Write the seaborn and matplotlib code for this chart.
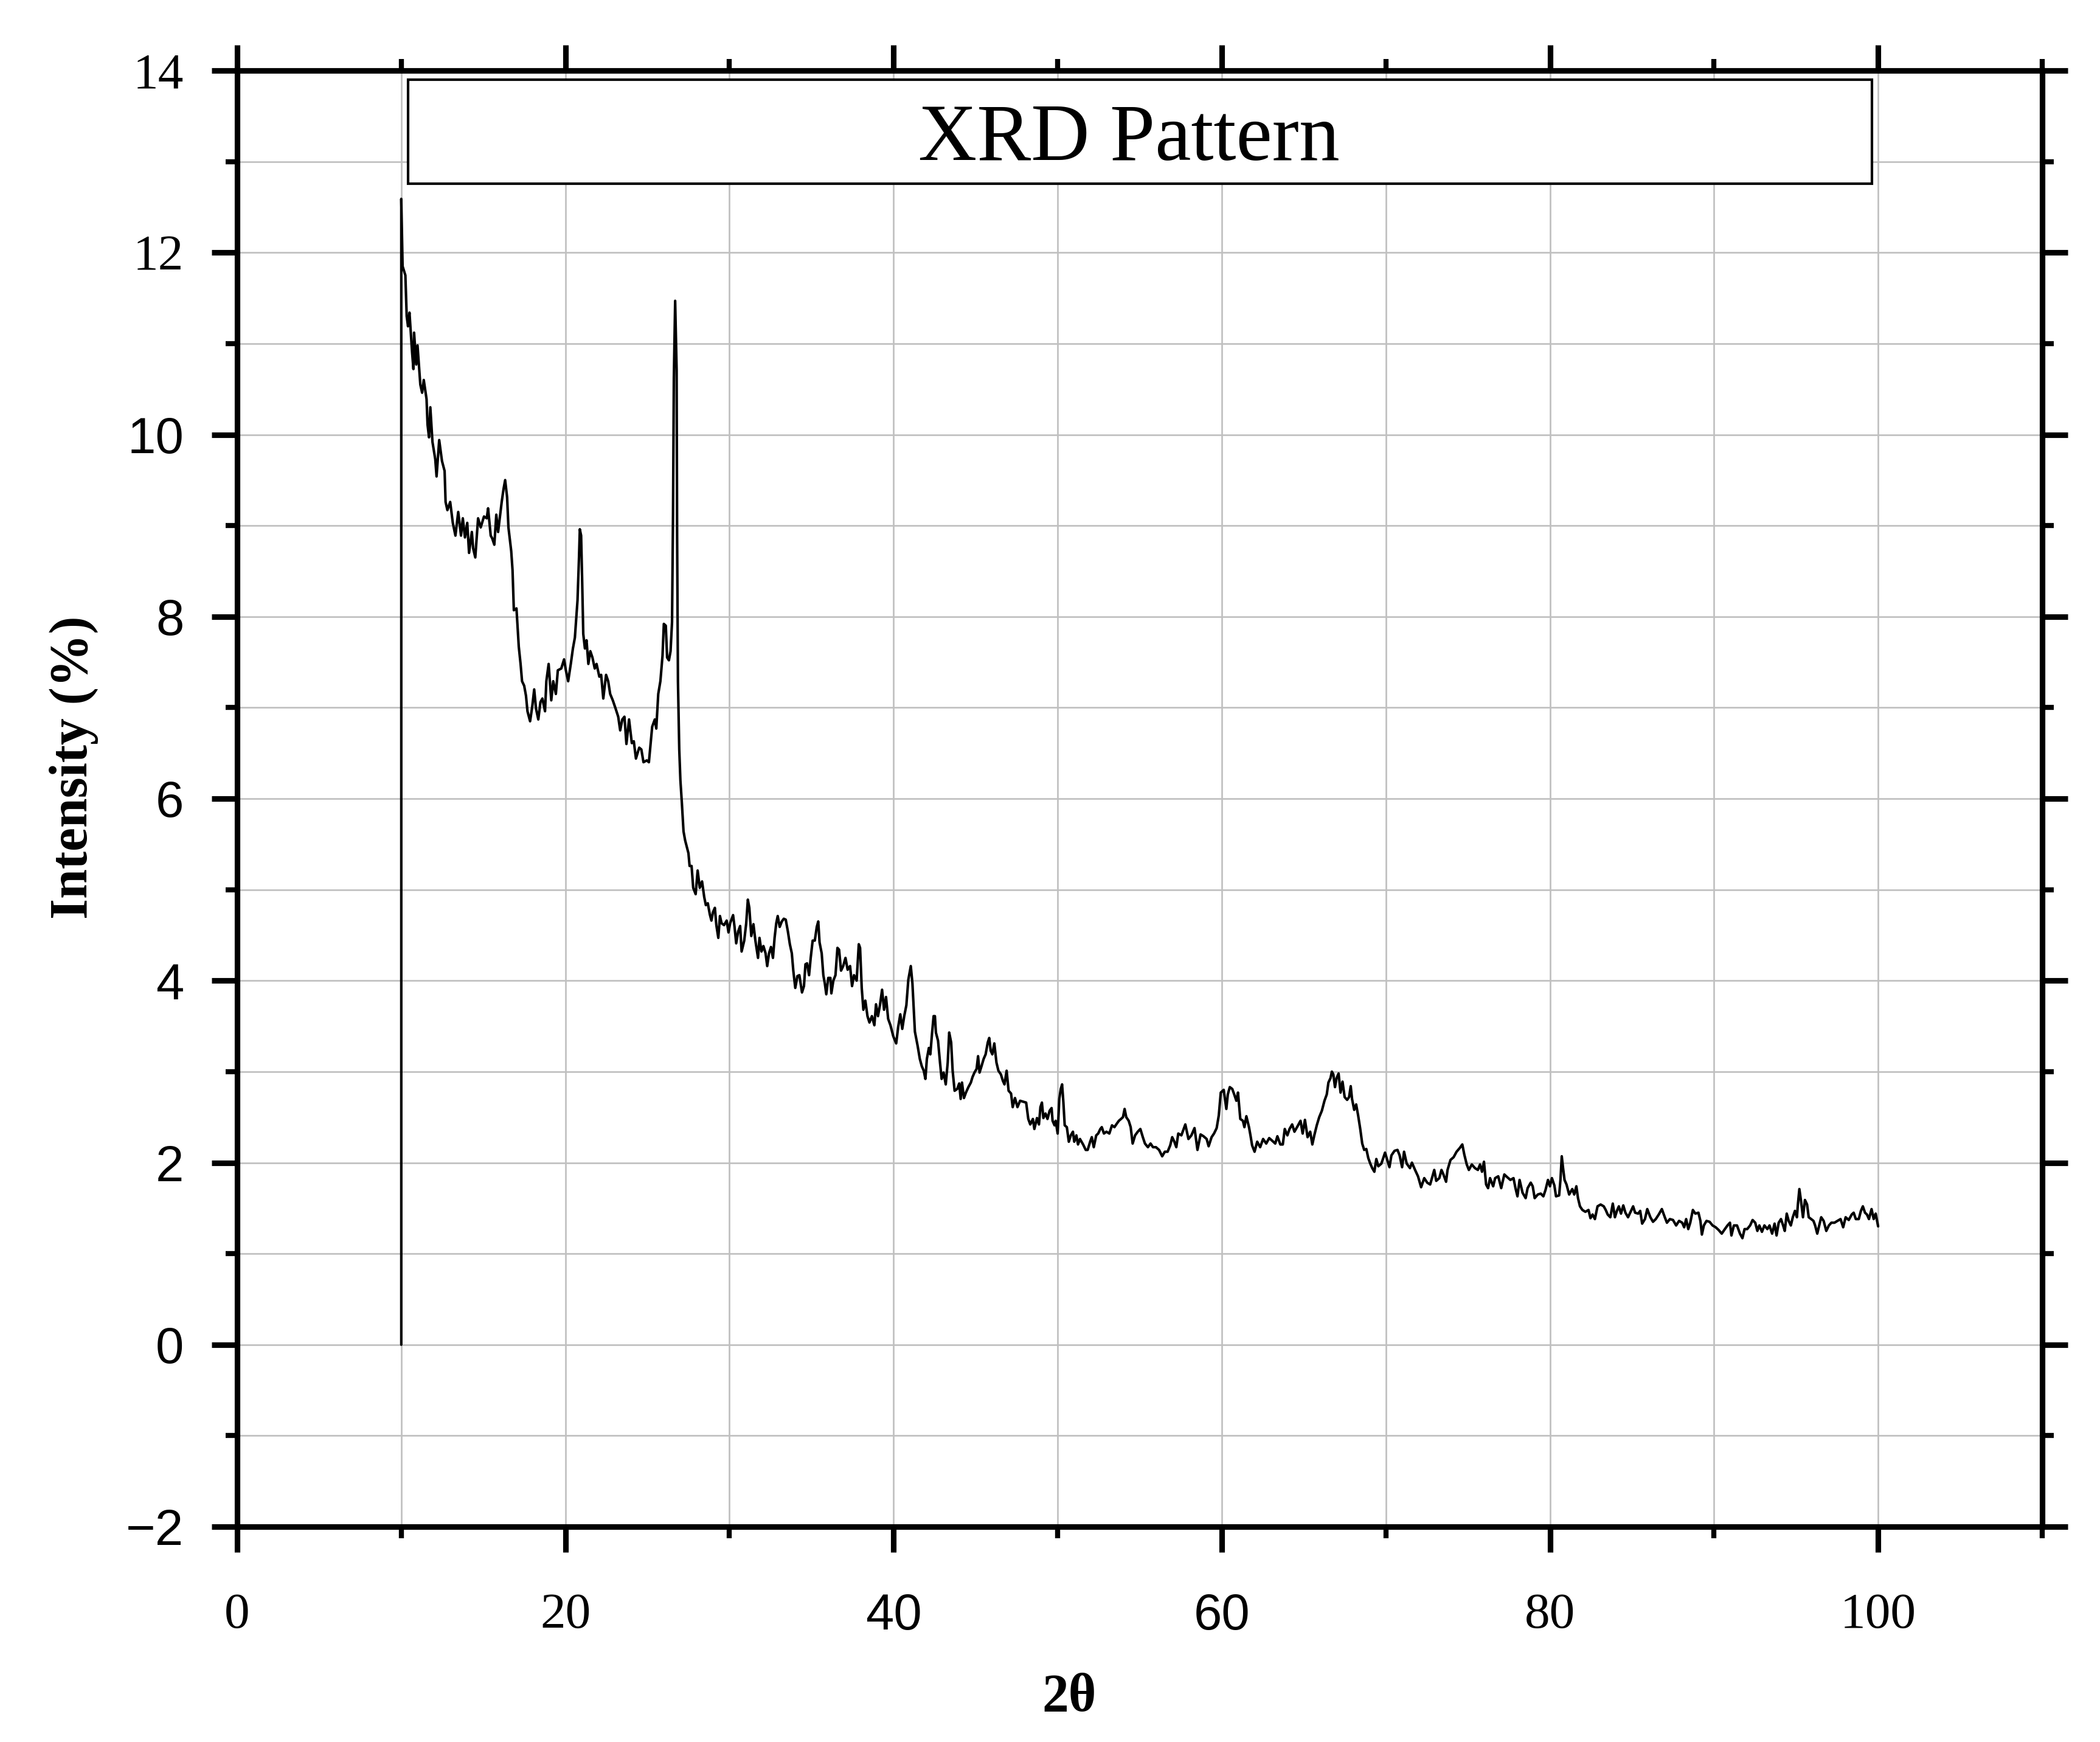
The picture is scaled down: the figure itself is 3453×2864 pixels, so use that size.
import numpy as np
import pandas as pd
import matplotlib
matplotlib.use("Agg")
import matplotlib.pyplot as plt
import seaborn as sns
from matplotlib.ticker import MultipleLocator
from matplotlib.patches import Rectangle

# ---------------- data ----------------
two_theta = [
    10.0, 10.0, 10.08, 10.25, 10.33, 10.41, 10.5, 10.66, 10.74, 10.78, 10.91, 10.99, 11.16, 11.27, 11.37,
    11.54, 11.6, 11.69, 11.77, 11.9, 12.07, 12.15, 12.31, 12.48, 12.64, 12.7, 12.81, 12.98, 13.14, 13.3,
    13.47, 13.64, 13.75, 13.88, 14.02, 14.13, 14.3, 14.38, 14.51, 14.68, 14.84, 15.04, 15.21, 15.29, 15.45,
    15.54, 15.67, 15.79, 15.9, 16.0, 16.12, 16.23, 16.33, 16.45, 16.53, 16.7, 16.78, 16.86, 17.02, 17.16,
    17.27, 17.36, 17.49, 17.6, 17.69, 17.85, 17.98, 18.1, 18.21, 18.35, 18.48, 18.6, 18.76, 18.84, 18.98,
    19.14, 19.26, 19.42, 19.54, 19.75, 19.92, 20.03, 20.17, 20.33, 20.46, 20.58, 20.66, 20.74, 20.83, 20.88,
    20.96, 21.02, 21.09, 21.19, 21.29, 21.4, 21.52, 21.65, 21.79, 21.9, 22.07, 22.18, 22.31, 22.48, 22.61,
    22.73, 22.89, 23.06, 23.22, 23.34, 23.47, 23.6, 23.72, 23.88, 24.05, 24.17, 24.3, 24.5, 24.63, 24.76,
    24.96, 25.09, 25.21, 25.29, 25.45, 25.54, 25.66, 25.79, 25.92, 26.0, 26.12, 26.2, 26.31, 26.41, 26.5,
    26.56, 26.61, 26.69, 26.78, 26.81, 26.86, 26.94,
    27.01, 27.1, 27.2, 27.3, 27.5, 27.57, 27.69, 27.79, 27.94, 28.06, 28.19, 28.33, 28.46, 28.56, 28.68,
    28.8, 28.9, 28.99, 29.11, 29.2, 29.32, 29.42, 29.52, 29.67, 29.83, 29.94, 30.04, 30.22, 30.31, 30.41,
    30.53, 30.65, 30.74, 30.9, 31.02, 31.12, 31.21, 31.33, 31.46, 31.58, 31.74, 31.83, 31.95, 32.07, 32.2,
    32.3, 32.41, 32.53, 32.65, 32.75, 32.85, 32.94, 33.06, 33.19, 33.31, 33.43, 33.56, 33.68, 33.8, 33.89,
    34.01, 34.14, 34.26, 34.42, 34.54, 34.63, 34.73, 34.85, 34.95, 35.07, 35.2, 35.32, 35.41, 35.49, 35.62,
    35.72, 35.81, 35.9, 36.02, 36.15, 36.21, 36.33, 36.46, 36.58, 36.68, 36.8, 36.93, 37.07, 37.2, 37.35,
    37.47, 37.59, 37.75, 37.88, 37.96, 38.06, 38.16, 38.28, 38.41, 38.53, 38.68, 38.83, 38.93, 39.05, 39.17,
    39.3, 39.42, 39.54, 39.67, 39.81, 39.98, 40.16, 40.28, 40.41, 40.53, 40.65, 40.78, 40.9, 41.05, 41.15,
    41.3,
    41.47, 41.6, 41.72, 41.84, 41.94, 42.03, 42.15, 42.24, 42.34, 42.44, 42.52, 42.58, 42.71, 42.83, 42.93,
    43.05, 43.18, 43.3, 43.39, 43.51, 43.6, 43.72, 43.88, 44.0, 44.09, 44.17, 44.29, 44.41, 44.56, 44.71,
    44.81, 44.93, 45.06, 45.15, 45.24, 45.36, 45.49, 45.61, 45.74, 45.83, 45.92, 46.02, 46.14, 46.27, 46.39,
    46.54, 46.66, 46.76, 46.89, 47.01, 47.16, 47.26, 47.4, 47.55, 47.71, 47.9, 48.08, 48.21, 48.33, 48.49,
    48.58, 48.74, 48.86, 48.95, 49.04, 49.13, 49.26, 49.38, 49.51, 49.63, 49.69, 49.81, 49.88, 50.0, 50.1,
    50.19, 50.27, 50.35, 50.43, 50.56, 50.68, 50.8, 50.93, 51.01, 51.14, 51.24, 51.36, 51.55, 51.71, 51.83,
    51.98, 52.08, 52.2, 52.35, 52.47, 52.6, 52.69, 52.82, 52.97, 53.15, 53.31, 53.46, 53.61, 53.73, 53.86,
    53.98, 54.08, 54.18, 54.33, 54.45, 54.57, 54.72, 54.88, 55.04, 55.19, 55.32, 55.5, 55.66, 55.81, 55.99,
    56.18, 56.37, 56.53, 56.7, 56.86, 56.98, 57.11, 57.23, 57.35,
    57.54, 57.78, 57.97, 58.15, 58.34, 58.52, 58.71, 58.89, 59.08, 59.2, 59.38, 59.53, 59.69, 59.82, 59.94,
    60.12, 60.28, 60.37, 60.49, 60.64, 60.76, 60.89, 60.99, 61.13, 61.29, 61.38, 61.5, 61.66, 61.75, 61.85,
    62.0, 62.16, 62.34, 62.52, 62.71, 62.89, 63.08, 63.26, 63.39, 63.57, 63.72, 63.84, 64.0, 64.13, 64.29,
    64.43, 64.62, 64.8, 64.93, 65.07, 65.23, 65.39, 65.52, 65.64, 65.79, 65.94, 66.1, 66.26, 66.4, 66.5,
    66.63, 66.71, 66.8, 66.9, 67.0, 67.12, 67.24, 67.36, 67.49, 67.64, 67.76, 67.86, 67.94, 68.07, 68.19,
    68.31, 68.44, 68.56, 68.68, 68.81, 68.93, 69.05, 69.17, 69.3, 69.42, 69.54, 69.73, 69.95, 70.1, 70.22,
    70.34, 70.53, 70.71, 70.84, 70.99, 71.11, 71.27,
    71.47, 71.59, 71.78, 71.96, 72.15, 72.34, 72.52, 72.7, 72.95, 73.07, 73.26, 73.39, 73.51, 73.67, 73.76,
    73.94, 74.13, 74.31, 74.5, 74.66, 74.78, 74.93, 75.06, 75.24, 75.43, 75.61, 75.74, 75.86, 75.98, 76.11,
    76.23, 76.35, 76.54, 76.66, 76.85, 77.03, 77.22, 77.4, 77.59, 77.78, 77.9, 78.02, 78.15, 78.33, 78.52,
    78.64, 78.83, 78.95, 79.07, 79.26, 79.44, 79.6, 79.73, 79.88, 80.0, 80.12, 80.27, 80.37, 80.56, 80.64,
    80.72, 80.8, 80.89, 81.01, 81.17, 81.36, 81.48, 81.61, 81.71, 81.83, 81.98, 82.16, 82.35, 82.47, 82.6,
    82.74, 82.9, 83.09, 83.28, 83.4, 83.52, 83.68, 83.83, 83.96, 84.08, 84.2, 84.33, 84.47, 84.6, 84.76,
    84.94, 85.07, 85.19, 85.38, 85.5, 85.62, 85.79, 85.93, 86.12, 86.28,
    86.45, 86.63, 86.82, 87.0, 87.13, 87.31, 87.5, 87.69, 87.87, 88.06, 88.18, 88.3, 88.43, 88.55, 88.71,
    88.86, 89.05, 89.17, 89.26, 89.38, 89.54, 89.73, 89.91, 90.1, 90.28, 90.47, 90.66, 90.82, 90.97, 91.06,
    91.21, 91.4, 91.58, 91.73, 91.86, 92.02, 92.2, 92.35, 92.51, 92.64, 92.76, 92.92, 93.07, 93.25, 93.38,
    93.54, 93.69, 93.81, 93.94, 94.08, 94.21, 94.31, 94.43, 94.55, 94.68, 94.8, 94.93, 95.05, 95.11, 95.2,
    95.3, 95.42, 95.54, 95.67, 95.77, 95.92, 96.06, 96.16, 96.29, 96.41, 96.53, 96.68, 96.84, 97.0, 97.15,
    97.34, 97.52, 97.71, 97.87, 98.02, 98.21, 98.39, 98.51, 98.64, 98.82, 98.95, 99.07, 99.2, 99.32, 99.44,
    99.6, 99.73, 99.85, 100.0,
]

intensity = [
    0.0, 12.59, 11.85, 11.75, 11.3, 11.19, 11.34, 10.9, 10.72, 11.12, 10.77, 10.98, 10.55, 10.46, 10.6,
    10.39, 10.11, 9.97, 10.3, 9.92, 9.73, 9.54, 9.94, 9.71, 9.6, 9.26, 9.17, 9.26, 9.03, 8.89,
    9.15, 8.89, 9.08, 8.87, 9.03, 8.7, 8.93, 8.75, 8.65, 9.08, 8.98, 9.1, 9.08, 9.19, 8.89,
    8.86, 8.79, 9.12, 8.93, 9.08, 9.26, 9.4, 9.5, 9.31, 8.98, 8.72, 8.51, 8.07, 8.09, 7.67,
    7.48, 7.29, 7.24, 7.13, 6.96, 6.85, 7.01, 7.2, 6.99, 6.87, 7.06, 7.1, 6.96, 7.29, 7.48,
    7.08, 7.29, 7.15, 7.41, 7.43, 7.53, 7.41, 7.29, 7.48, 7.65, 7.77, 7.98, 8.18, 8.65, 8.96,
    8.89, 8.42, 7.81, 7.65, 7.74, 7.48, 7.62, 7.55, 7.43, 7.48, 7.34, 7.36, 7.1, 7.36, 7.29,
    7.15, 7.08, 6.99, 6.9, 6.75, 6.87, 6.9, 6.6, 6.87, 6.61, 6.63, 6.44, 6.56, 6.54, 6.4,
    6.42, 6.4, 6.63, 6.79, 6.87, 6.77, 7.15, 7.29, 7.57, 7.92, 7.9, 7.55, 7.52, 7.62, 7.94,
    9.12, 10.62, 11.47, 10.71, 8.89, 7.29, 6.54,
    6.2, 5.95, 5.64, 5.54, 5.4, 5.26, 5.26, 5.02, 4.95, 5.21, 5.02, 5.09, 4.92, 4.83, 4.85,
    4.73, 4.66, 4.75, 4.8, 4.61, 4.47, 4.71, 4.63, 4.61, 4.66, 4.53, 4.63, 4.72, 4.59, 4.41,
    4.54, 4.6, 4.32, 4.44, 4.63, 4.89, 4.8, 4.49, 4.62, 4.44, 4.25, 4.47, 4.32, 4.38, 4.3,
    4.16, 4.3, 4.37, 4.25, 4.47, 4.63, 4.71, 4.59, 4.65, 4.68, 4.67, 4.54, 4.4, 4.3, 4.11,
    3.92, 4.05, 4.06, 3.87, 3.94, 4.18, 4.19, 4.06, 4.25, 4.44, 4.44, 4.59, 4.65, 4.42, 4.3,
    4.06, 3.97, 3.85, 4.03, 4.03, 3.86, 4.0, 4.06, 4.36, 4.34, 4.11, 4.16, 4.25, 4.12, 4.16,
    3.94, 4.06, 4.0, 4.4, 4.36, 3.92, 3.68, 3.78, 3.61, 3.54, 3.61, 3.51, 3.74, 3.61, 3.73,
    3.9, 3.68, 3.82, 3.58, 3.51, 3.39, 3.31, 3.49, 3.63, 3.47, 3.61, 3.73, 4.01, 4.16, 3.97,
    3.44,
    3.28, 3.14, 3.06, 3.01, 2.92, 3.14, 3.26, 3.19, 3.41, 3.61, 3.61, 3.43, 3.34, 3.1, 2.92,
    2.99, 2.86, 3.1, 3.43, 3.32, 3.01, 2.79, 2.81, 2.87, 2.7, 2.88, 2.71, 2.77, 2.83, 2.88,
    2.94, 2.99, 3.03, 3.17, 2.99, 3.06, 3.14, 3.19, 3.32, 3.37, 3.23, 3.19, 3.31, 3.1, 3.01,
    2.97, 2.9, 2.86, 3.01, 2.79, 2.76, 2.61, 2.71, 2.61, 2.68, 2.67, 2.66, 2.48, 2.42, 2.48,
    2.37, 2.49, 2.42, 2.61, 2.66, 2.49, 2.54, 2.48, 2.57, 2.6, 2.46, 2.41, 2.46, 2.32, 2.7,
    2.81, 2.86, 2.66, 2.41, 2.39, 2.23, 2.3, 2.34, 2.23, 2.3, 2.2, 2.26, 2.2, 2.14, 2.14,
    2.23, 2.28, 2.17, 2.3, 2.32, 2.37, 2.39, 2.32, 2.34, 2.32, 2.41, 2.39, 2.43, 2.46, 2.48,
    2.5, 2.59, 2.5, 2.46, 2.39, 2.21, 2.3, 2.34, 2.37, 2.28, 2.21, 2.17, 2.21, 2.17, 2.17,
    2.14, 2.07, 2.12, 2.12, 2.19, 2.28, 2.23, 2.17, 2.32,
    2.3, 2.42, 2.26, 2.3, 2.38, 2.14, 2.31, 2.29, 2.26, 2.18, 2.28, 2.32, 2.38, 2.52, 2.77,
    2.8, 2.59, 2.75, 2.83, 2.81, 2.75, 2.68, 2.77, 2.48, 2.46, 2.39, 2.51, 2.39, 2.3, 2.19,
    2.12, 2.23, 2.17, 2.26, 2.21, 2.27, 2.24, 2.21, 2.29, 2.2, 2.2, 2.37, 2.3, 2.37, 2.42,
    2.34, 2.4, 2.46, 2.32, 2.47, 2.28, 2.34, 2.2, 2.3, 2.41, 2.5, 2.57, 2.68, 2.75, 2.88,
    2.93, 3.0, 2.97, 2.83, 2.93, 2.98, 2.77, 2.89, 2.72, 2.69, 2.72, 2.84, 2.7, 2.58, 2.64,
    2.52, 2.37, 2.21, 2.14, 2.15, 2.05, 1.99, 1.94, 1.9, 2.04, 1.96, 1.99, 2.11, 2.02, 1.95,
    2.08, 2.13, 2.14, 2.08, 1.95, 2.12, 1.99,
    1.94, 2.0, 1.92, 1.85, 1.73, 1.83, 1.78, 1.76, 1.92, 1.8, 1.83, 1.92, 1.87, 1.79, 1.92,
    2.03, 2.06, 2.12, 2.16, 2.2, 2.09, 1.98, 1.92, 1.98, 1.94, 1.92, 1.98, 1.9, 2.01, 1.76,
    1.72, 1.83, 1.74, 1.83, 1.85, 1.72, 1.87, 1.84, 1.81, 1.83, 1.72, 1.63, 1.81, 1.67, 1.61,
    1.72, 1.78, 1.74, 1.61, 1.65, 1.66, 1.63, 1.7, 1.81, 1.74, 1.83, 1.75, 1.63, 1.64, 1.81,
    2.07, 1.94, 1.81, 1.76, 1.65, 1.71, 1.65, 1.74, 1.61, 1.52, 1.48, 1.46, 1.48, 1.39, 1.43,
    1.38, 1.52, 1.54, 1.52, 1.48, 1.43, 1.4, 1.55, 1.4, 1.47, 1.52, 1.44, 1.53, 1.45, 1.4,
    1.47, 1.52, 1.45, 1.44, 1.47, 1.33, 1.38, 1.49, 1.4, 1.35,
    1.38, 1.43, 1.49, 1.4, 1.34, 1.38, 1.37, 1.31, 1.36, 1.34, 1.29, 1.38, 1.27, 1.34, 1.48,
    1.44, 1.45, 1.36, 1.21, 1.31, 1.36, 1.35, 1.31, 1.29, 1.26, 1.22, 1.27, 1.31, 1.34, 1.2,
    1.31, 1.31, 1.22, 1.17, 1.27, 1.27, 1.31, 1.37, 1.34, 1.25, 1.31, 1.24, 1.31, 1.27, 1.31,
    1.22, 1.33, 1.2, 1.34, 1.38, 1.31, 1.25, 1.44, 1.36, 1.31, 1.4, 1.47, 1.4, 1.54, 1.71,
    1.58, 1.4, 1.59, 1.54, 1.4, 1.38, 1.36, 1.31, 1.22, 1.31, 1.4, 1.36, 1.25, 1.31, 1.34,
    1.34, 1.36, 1.38, 1.29, 1.4, 1.37, 1.43, 1.45, 1.38, 1.38, 1.47, 1.52, 1.45, 1.43, 1.38,
    1.49, 1.38, 1.44, 1.3,
]

x_major_ticks = [0, 20, 40, 60, 80, 100]
x_tick_labels = ["0", "20", "40", "60", "80", "100"]
x_tick_styles = ["serif", "serif", "sans", "sans", "serif", "serif"]

y_major_ticks = [-2, 0, 2, 4, 6, 8, 10, 12, 14]
y_tick_labels = ["\u22122", "0", "2", "4", "6", "8", "10", "12", "14"]
y_tick_styles = ["sans", "sans", "sans", "sans", "sans", "sans", "sans", "serif", "serif"]

title_text = "XRD Pattern"
x_label = "2\u03b8"
y_label = "Intensity (%)"

# ---------------- styling ----------------
SERIF = "Liberation Serif"
SANS = "Liberation Sans"
FAMILY = {"serif": SERIF, "sans": SANS}

sns.set_theme(style="ticks")
plt.rcParams["font.family"] = [SERIF, "DejaVu Serif"]
plt.rcParams["axes.unicode_minus"] = True

df = pd.DataFrame({"two_theta": two_theta, "intensity": intensity})

W, H, DPI = 3453, 2864, 300
fig = plt.figure(figsize=(W / DPI, H / DPI), dpi=DPI)
fig.patch.set_facecolor("white")
ax = fig.add_axes([390 / W, 1 - 2510 / H, (3358 - 390) / W, (2510 - 116) / H])
ax.set_facecolor("white")

sns.lineplot(data=df, x="two_theta", y="intensity", sort=False, estimator=None,
             color="black", linewidth=1.0, ax=ax, zorder=3)

ax.set_xlim(0, 110)
ax.set_ylim(-2, 14)

ax.set_xticks(x_major_ticks)
ax.set_xticklabels(x_tick_labels)
ax.set_yticks(y_major_ticks)
ax.set_yticklabels(y_tick_labels)
ax.xaxis.set_minor_locator(MultipleLocator(10))
ax.yaxis.set_minor_locator(MultipleLocator(1))

for lab, st in zip(ax.get_xticklabels(), x_tick_styles):
    lab.set_fontfamily(FAMILY[st])
for lab, st in zip(ax.get_yticklabels(), y_tick_styles):
    lab.set_fontfamily(FAMILY[st])

ax.tick_params(which="major", direction="out", length=10, width=2.2, color="black",
               top=True, right=True, labeltop=False, labelright=False,
               labelsize=20, labelcolor="black")
ax.tick_params(axis="x", which="major", pad=16)
ax.tick_params(axis="y", which="major", pad=11)
ax.tick_params(which="minor", direction="out", length=4.5, width=2.0, color="black",
               top=True, right=True)

ax.grid(True, which="both", color="#c0c0c0", linewidth=0.65)
ax.set_axisbelow(True)

for sp in ax.spines.values():
    sp.set_visible(True)
    sp.set_linewidth(2.2)
    sp.set_color("black")

ax.set_xlabel(x_label, fontfamily=SERIF, fontweight="bold", fontsize=21, color="black")
ax.set_ylabel(y_label, fontfamily=SERIF, fontweight="bold", fontsize=21, color="black")
ax.xaxis.label.set_va("center")
ax.yaxis.label.set_va("center")
ax.xaxis.set_label_coords((1758 - 390) / 2968, -(2792 - 2510) / 2394)
ax.yaxis.set_label_coords((121 - 390) / 2968, (2510 - 1262) / 2394)

# title inside a framed box at the top of the plot area
box = Rectangle((0.0947, 0.9223), 0.811, 0.0714, transform=ax.transAxes,
                facecolor="white", edgecolor="black", linewidth=1.0, zorder=5)
ax.add_patch(box)
ax.text(0.494, 0.952, title_text, transform=ax.transAxes, ha="center", va="center",
        fontsize=32, fontfamily=SERIF, color="black", zorder=6)

fig.savefig("out.png", dpi=DPI, facecolor="white")
